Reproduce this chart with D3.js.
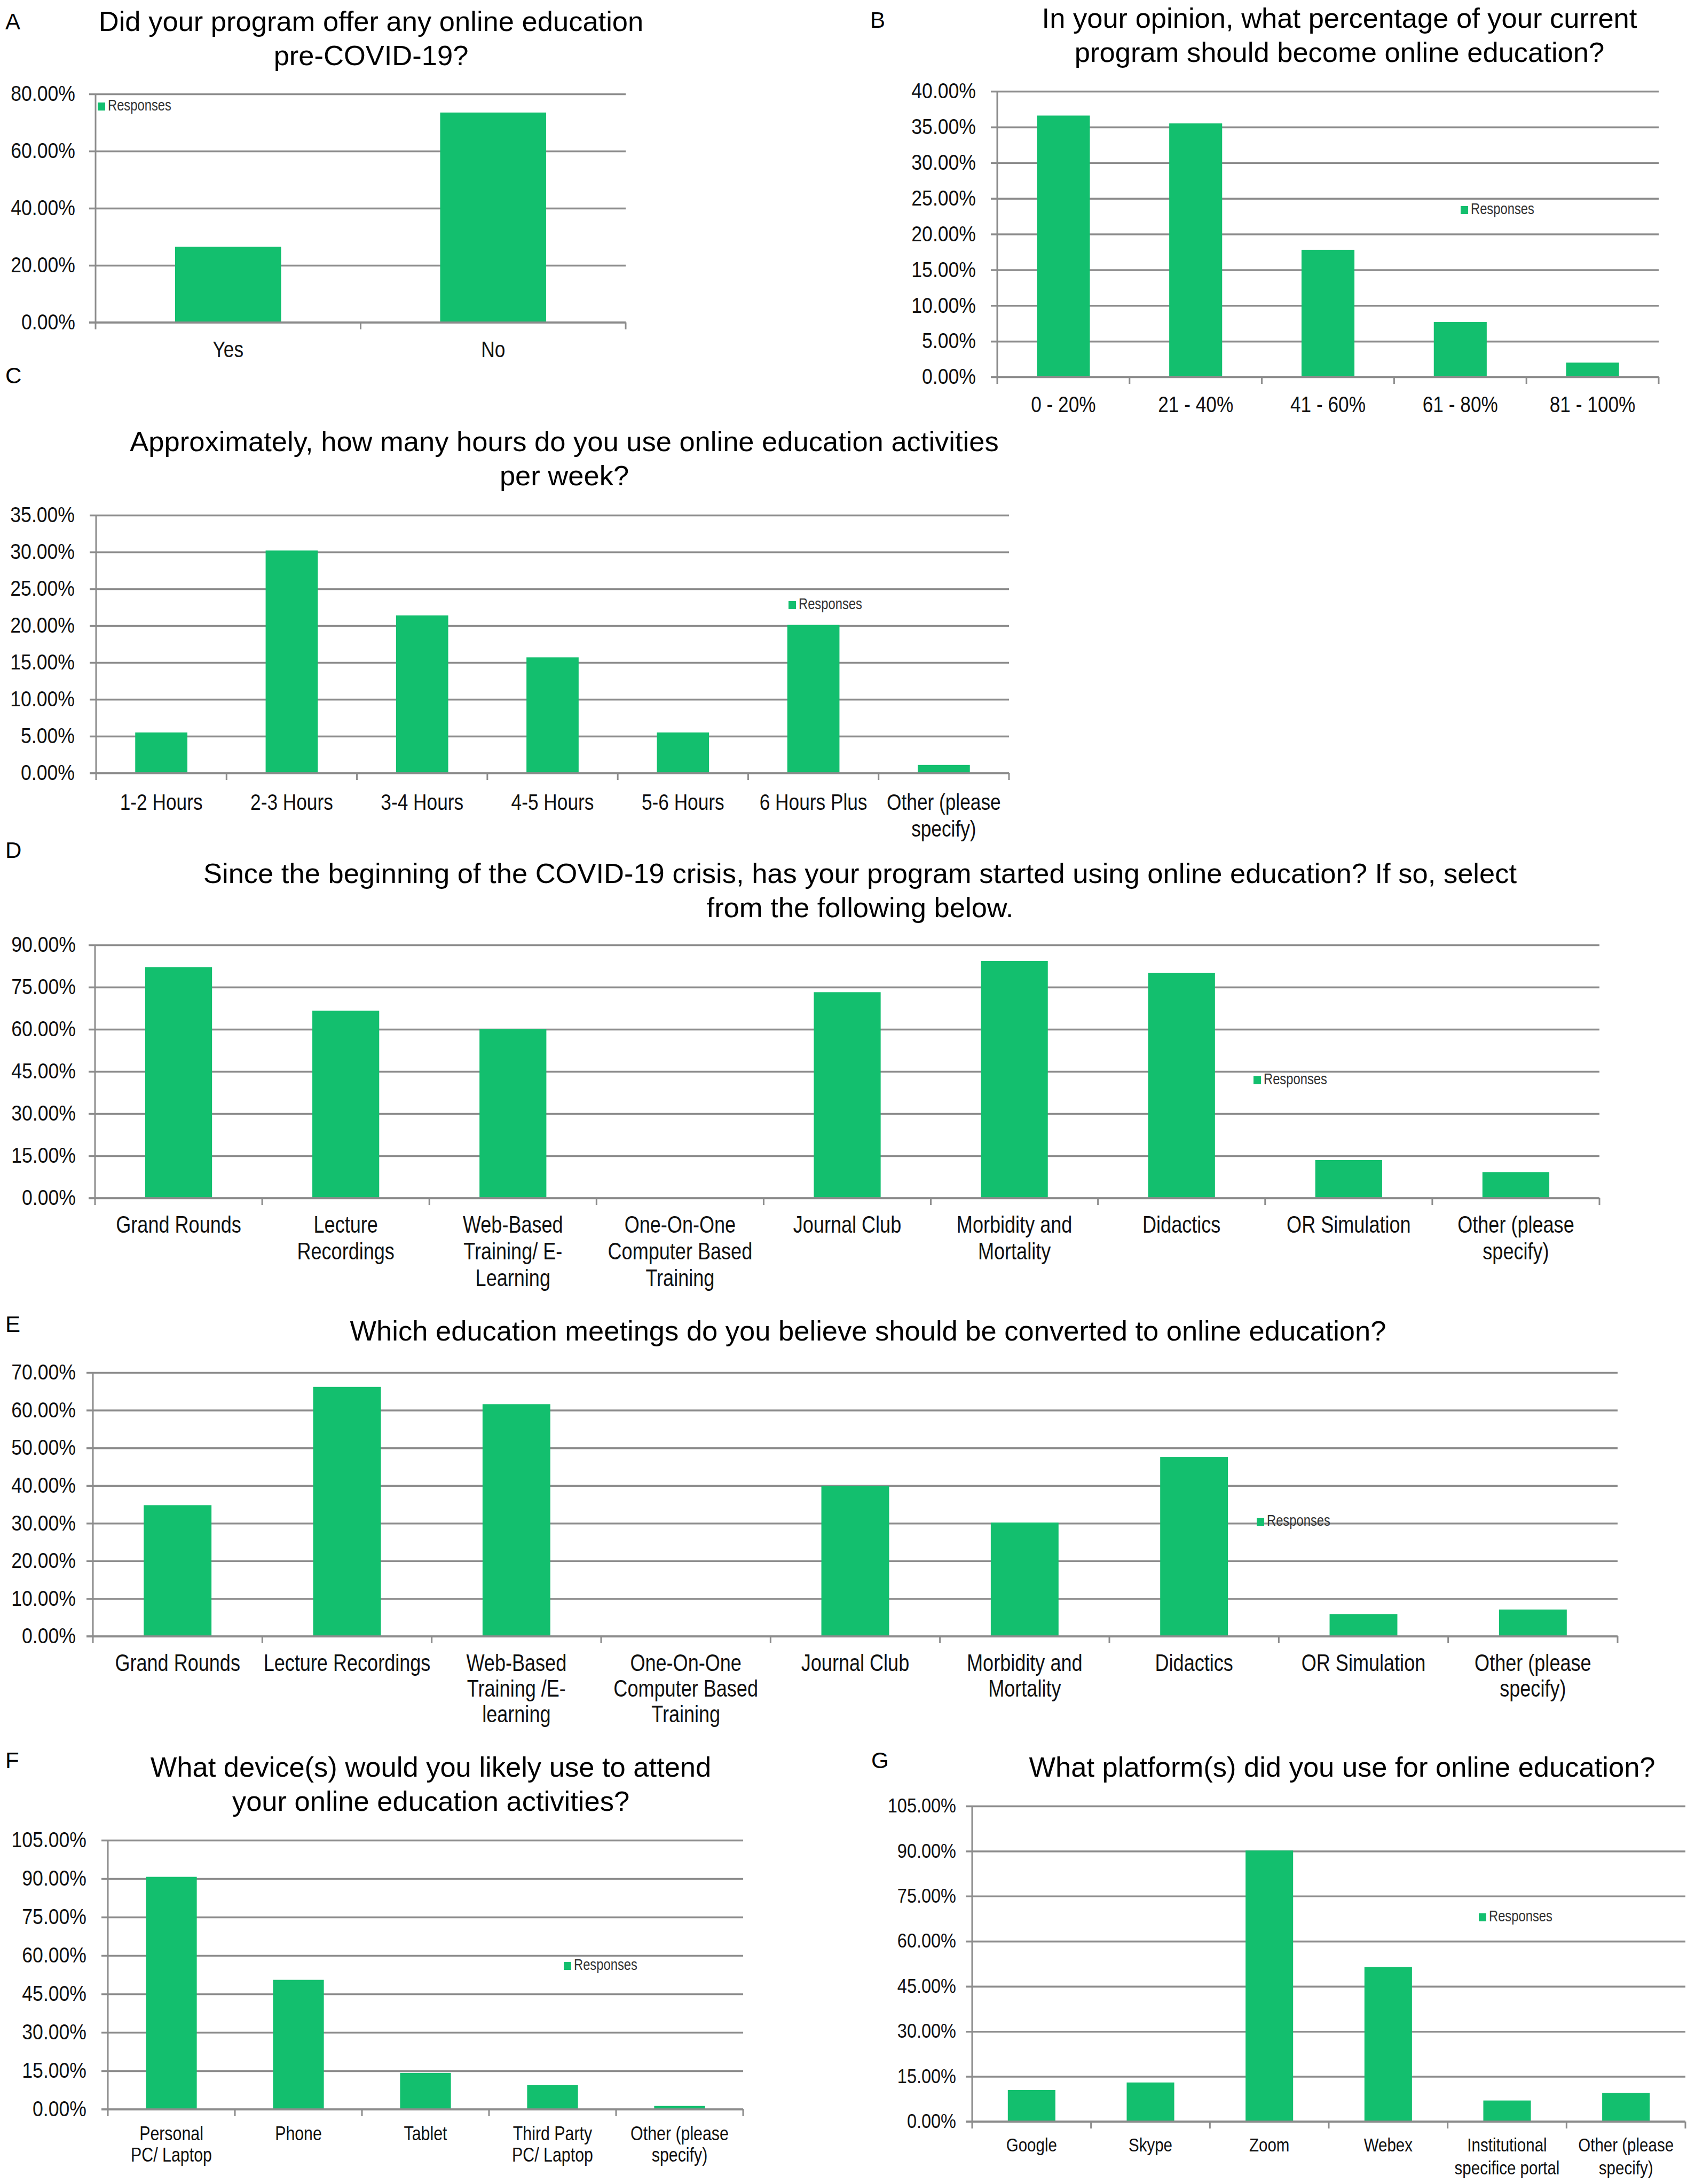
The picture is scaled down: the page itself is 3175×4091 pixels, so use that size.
<!DOCTYPE html>
<html>
<head>
<meta charset="utf-8">
<script src="https://cdn.jsdelivr.net/npm/d3@7"></script>
<style>
  body { margin: 0; background: #fff; }
</style>
</head>
<body>
<script>
// ---- data ----
var aCategories = ["Yes", "No"];
var aValues = [26.5, 73.5];
var aTicks = [0, 20, 40, 60, 80];

var bCategories = ["0 - 20%", "21 - 40%", "41 - 60%", "61 - 80%", "81 - 100%"];
var bValues = [36.6, 35.5, 17.8, 7.7, 2.0];
var bTicks = [0, 5, 10, 15, 20, 25, 30, 35, 40];

var cCategories = ["1-2 Hours", "2-3 Hours", "3-4 Hours", "4-5 Hours", "5-6 Hours", "6 Hours Plus", "Other (please\nspecify)"];
var cValues = [5.5, 30.2, 21.4, 15.7, 5.5, 20.1, 1.1];
var cTicks = [0, 5, 10, 15, 20, 25, 30, 35];

var dCategories = ["Grand Rounds", "Lecture\nRecordings", "Web-Based\nTraining/ E-\nLearning", "One-On-One\nComputer Based\nTraining", "Journal Club", "Morbidity and\nMortality", "Didactics", "OR Simulation", "Other (please\nspecify)"];
var dValues = [82.1, 66.6, 60.0, 0, 73.2, 84.3, 80.0, 13.5, 9.2];
var dTicks = [0, 15, 30, 45, 60, 75, 90];

var eCategories = ["Grand Rounds", "Lecture Recordings", "Web-Based\nTraining /E-\nlearning", "One-On-One\nComputer Based\nTraining", "Journal Club", "Morbidity and\nMortality", "Didactics", "OR Simulation", "Other (please\nspecify)"];
var eValues = [34.8, 66.2, 61.6, 0, 39.9, 30.2, 47.6, 5.9, 7.1];
var eTicks = [0, 10, 20, 30, 40, 50, 60, 70];

var fCategories = ["Personal\nPC/ Laptop", "Phone", "Tablet", "Third Party\nPC/ Laptop", "Other (please\nspecify)"];
var fValues = [90.7, 50.5, 14.2, 9.4, 1.3];
var fTicks = [0, 15, 30, 45, 60, 75, 90, 105];

var gCategories = ["Google", "Skype", "Zoom", "Webex", "Institutional\nspecifice portal", "Other (please\nspecify)"];
var gValues = [10.5, 13.0, 90.2, 51.4, 7.0, 9.5];
var gTicks = [0, 15, 30, 45, 60, 75, 90, 105];

var GREEN = "#13bf6e";
var GRID = "#8c8c8c";
var TITLE_FONT = "'Liberation Sans', Arial, sans-serif";
var LABEL_FONT = "'Liberation Sans', Arial, sans-serif";
var NARROW = 0.82;      // squeeze category/legend text horizontally, like Arial Narrow
var TICK_NARROW = 0.89; // tick labels are a bit less squeezed

var svg = d3.select("body").append("svg")
    .attr("xmlns", "http://www.w3.org/2000/svg")
    .attr("width", 3175)
    .attr("height", 4091)
    .style("background", "#fff");

function drawPanel(p) {
  var g = svg.append("g");

  g.append("text")
    .attr("x", p.letterX).attr("y", p.letterY)
    .attr("font-family", TITLE_FONT).attr("font-size", 42)
    .text(p.letter);

  var t = g.append("text")
    .attr("text-anchor", "middle")
    .attr("font-family", TITLE_FONT)
    .attr("font-size", 52.5);
  p.title.forEach(function(line, i) {
    t.append("tspan").attr("x", p.titleX).attr("y", p.titleY + i * 64).text(line);
  });

  var x = d3.scaleBand().domain(p.categories)
      .range([p.left, p.right]).paddingInner(0.6).paddingOuter(0.3);
  var y = d3.scaleLinear().domain([0, d3.max(p.ticks)]).range([p.bottom, p.top]);

  // gridlines + y labels
  var ya = g.append("g")
      .attr("transform", "translate(" + p.left + ",0)")
      .call(d3.axisLeft(y).tickValues(p.ticks)
        .tickSize(-(p.right - p.left)).tickPadding(p.tickPad)
        .tickFormat(function(d) { return d.toFixed(2) + "%"; }));
  ya.select(".domain").remove();
  ya.selectAll(".tick line").attr("x1", -12).attr("stroke", GRID).attr("stroke-width", 3.5);
  ya.selectAll(".tick text")
    .attr("x", -p.tickPad / TICK_NARROW)
    .attr("transform", "scale(" + TICK_NARROW + ",1)")
    .attr("font-family", LABEL_FONT).attr("font-size", p.tickFont).attr("fill", "#111");

  // y axis line
  g.append("line")
    .attr("x1", p.left).attr("x2", p.left)
    .attr("y1", y.range()[1]).attr("y2", y(0))
    .attr("stroke", GRID).attr("stroke-width", 3);

  // bars
  g.selectAll("rect.bar").data(p.values).join("rect")
    .attr("class", "bar")
    .attr("x", function(d, i) { return x(p.categories[i]); })
    .attr("y", function(d) { return y(d); })
    .attr("width", x.bandwidth())
    .attr("height", function(d) { return y(0) - y(d); })
    .attr("fill", GREEN);

  // x axis line and boundary ticks
  g.append("line")
    .attr("x1", p.left - 12).attr("x2", p.right)
    .attr("y1", y(0)).attr("y2", y(0))
    .attr("stroke", GRID).attr("stroke-width", 3.5);
  var edges = p.categories.map(function(c) { return x(c) - x.step() * x.paddingOuter(); });
  edges.push(p.right);
  g.selectAll("line.edge").data(edges).join("line")
    .attr("class", "edge")
    .attr("x1", function(d) { return d; }).attr("x2", function(d) { return d; })
    .attr("y1", y(0)).attr("y2", y(0) + 13)
    .attr("stroke", GRID).attr("stroke-width", 3);

  // category labels
  var xa = g.append("g")
      .attr("transform", "translate(0," + p.bottom + ")")
      .call(d3.axisBottom(x).tickSize(0));
  xa.select(".domain").remove();
  xa.selectAll(".tick text").each(function(d) {
    var el = d3.select(this);
    el.text(null).attr("y", null).attr("dy", null)
      .attr("transform", "scale(" + NARROW + ",1)")
      .attr("font-family", LABEL_FONT).attr("font-size", p.catFont).attr("fill", "#111");
    d.split("\n").forEach(function(line, i) {
      el.append("tspan").attr("x", 0).attr("y", p.catY - p.bottom + i * p.catGap).text(line);
    });
  });

  // legend
  g.append("rect")
    .attr("x", p.legendX).attr("y", p.legendY)
    .attr("width", 14).attr("height", 15).attr("fill", GREEN);
  g.append("text")
    .attr("x", (p.legendX + 19) / NARROW).attr("y", p.legendY + 15)
    .attr("transform", "scale(" + NARROW + ",1)")
    .attr("font-family", LABEL_FONT).attr("font-size", 29).attr("fill", "#333")
    .text("Responses");
}

drawPanel({
  letter: "A", letterX: 10, letterY: 55,
  title: ["Did your program offer any online education", "pre-COVID-19?"], titleX: 695, titleY: 58,
  categories: aCategories, values: aValues, ticks: aTicks,
  left: 179, right: 1172, top: 176, bottom: 604,
  tickPad: 38, tickFont: 40, catFont: 43, catY: 669, catGap: 50,
  legendX: 183, legendY: 192
});

drawPanel({
  letter: "B", letterX: 1630, letterY: 52,
  title: ["In your opinion, what percentage of your current", "program should become online education?"], titleX: 2509, titleY: 52,
  categories: bCategories, values: bValues, ticks: bTicks,
  left: 1868, right: 3107, top: 171, bottom: 706,
  tickPad: 40, tickFont: 40, catFont: 43, catY: 772, catGap: 50,
  legendX: 2736, legendY: 386
});

drawPanel({
  letter: "C", letterX: 10, letterY: 718,
  title: ["Approximately, how many hours do you use online education activities", "per week?"], titleX: 1057, titleY: 845,
  categories: cCategories, values: cValues, ticks: cTicks,
  left: 180, right: 1890, top: 965, bottom: 1448,
  tickPad: 40, tickFont: 40, catFont: 43, catY: 1517, catGap: 50,
  legendX: 1477, legendY: 1126
});

drawPanel({
  letter: "D", letterX: 10, letterY: 1607,
  title: ["Since the beginning of the COVID-19 crisis, has your program started using online education? If so, select", "from the following below."], titleX: 1611, titleY: 1654,
  categories: dCategories, values: dValues, ticks: dTicks,
  left: 178, right: 2996, top: 1770, bottom: 2244,
  tickPad: 36, tickFont: 40, catFont: 44, catY: 2309, catGap: 50,
  legendX: 2348, legendY: 2016
});

drawPanel({
  letter: "E", letterX: 10, letterY: 2495,
  title: ["Which education meetings do you believe should be converted to online education?"], titleX: 1626, titleY: 2511,
  categories: eCategories, values: eValues, ticks: eTicks,
  left: 174, right: 3030, top: 2571, bottom: 3065,
  tickPad: 32, tickFont: 40, catFont: 44, catY: 3130, catGap: 48,
  legendX: 2354, legendY: 2843
});

drawPanel({
  letter: "F", letterX: 10, letterY: 3312,
  title: ["What device(s) would you likely use to attend", "your online education activities?"], titleX: 807, titleY: 3328,
  categories: fCategories, values: fValues, ticks: fTicks,
  left: 202, right: 1392, top: 3447, bottom: 3951,
  tickPad: 40, tickFont: 40, catFont: 37, catY: 4009, catGap: 40,
  legendX: 1056, legendY: 3675
});

drawPanel({
  letter: "G", letterX: 1632, letterY: 3312,
  title: ["What platform(s) did you use for online education?"], titleX: 2514, titleY: 3328,
  categories: gCategories, values: gValues, ticks: gTicks,
  left: 1821, right: 3157, top: 3383, bottom: 3974,
  tickPad: 30, tickFont: 36.5, catFont: 36, catY: 4030, catGap: 43,
  legendX: 2770, legendY: 3584
});
</script>
</body>
</html>
